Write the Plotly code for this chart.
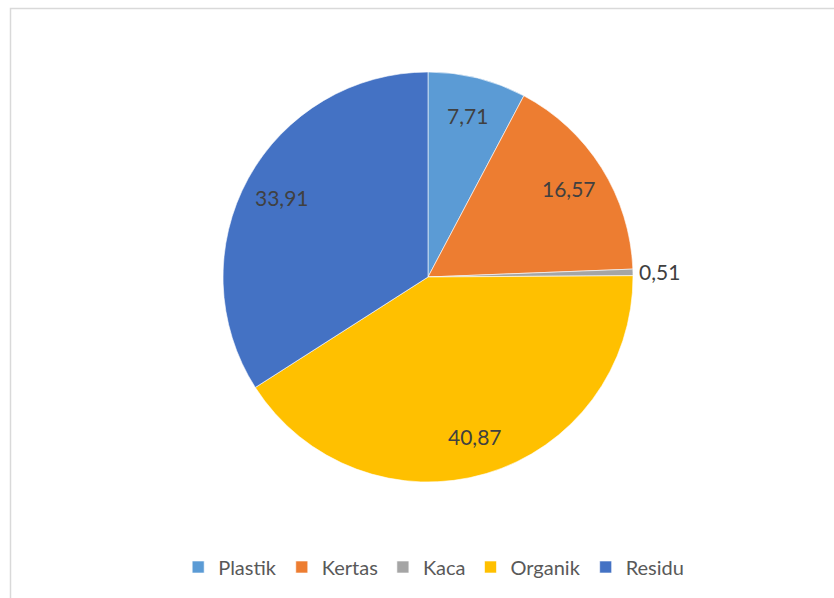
import math
import plotly.graph_objects as go

categories = ["Plastik", "Kertas", "Kaca", "Organik", "Residu"]
values = [7.71, 16.57, 0.51, 40.87, 33.91]
colors = ["#5B9BD5", "#ED7D31", "#A5A5A5", "#FFC000", "#4472C4"]
text_positions = ["inside", "inside", "outside", "inside", "inside"]

W, H = 834, 598
cx, cy, r = 428, 277, 205
FONT = "Lato, Open Sans, sans-serif"

fig = go.Figure(go.Pie(
    labels=categories,
    values=values,
    sort=False,
    direction="clockwise",
    rotation=0,
    marker=dict(colors=colors, line=dict(color="white", width=0.6)),
    textinfo="none",
    hoverinfo="label+value",
    domain=dict(x=[(cx - r) / W, (cx + r) / W], y=[1 - (cy + r) / H, 1 - (cy - r) / H]),
))

# data labels placed at each slice's mid-angle (Excel-style best fit)
total = sum(values)
cum = 0.0
annotations = []
for v, pos in zip(values, text_positions):
    mid = (cum + v / 2) / total * 2 * math.pi
    cum += v
    f = 0.81 if pos == "inside" else 1.13
    px = cx + f * r * math.sin(mid)
    py = cy - f * r * math.cos(mid)
    annotations.append(dict(
        x=px / W, y=1 - py / H, xref="paper", yref="paper",
        text=f"{v:.2f}".replace(".", ","), showarrow=False,
        xanchor="center", yanchor="middle",
        font=dict(family=FONT, size=21, color="#404040"),
    ))

fig.update_layout(
    width=W, height=H,
    margin=dict(l=0, r=0, t=0, b=0),
    paper_bgcolor="white",
    separators=",.",
    showlegend=True,
    annotations=annotations,
    legend=dict(
        orientation="h", x=0.52, xanchor="center", y=1 - 567 / H, yanchor="middle",
        font=dict(family=FONT, size=20, color="#595959"),
        itemclick=False,
    ),
    shapes=[dict(
        type="rect", xref="paper", yref="paper",
        x0=10.5 / W, x1=1.05, y0=-0.05, y1=1 - 8.5 / H,
        line=dict(color="#D9D9D9", width=1.5), fillcolor="rgba(0,0,0,0)", layer="below",
    )],
)

fig.write_html("out.html")
